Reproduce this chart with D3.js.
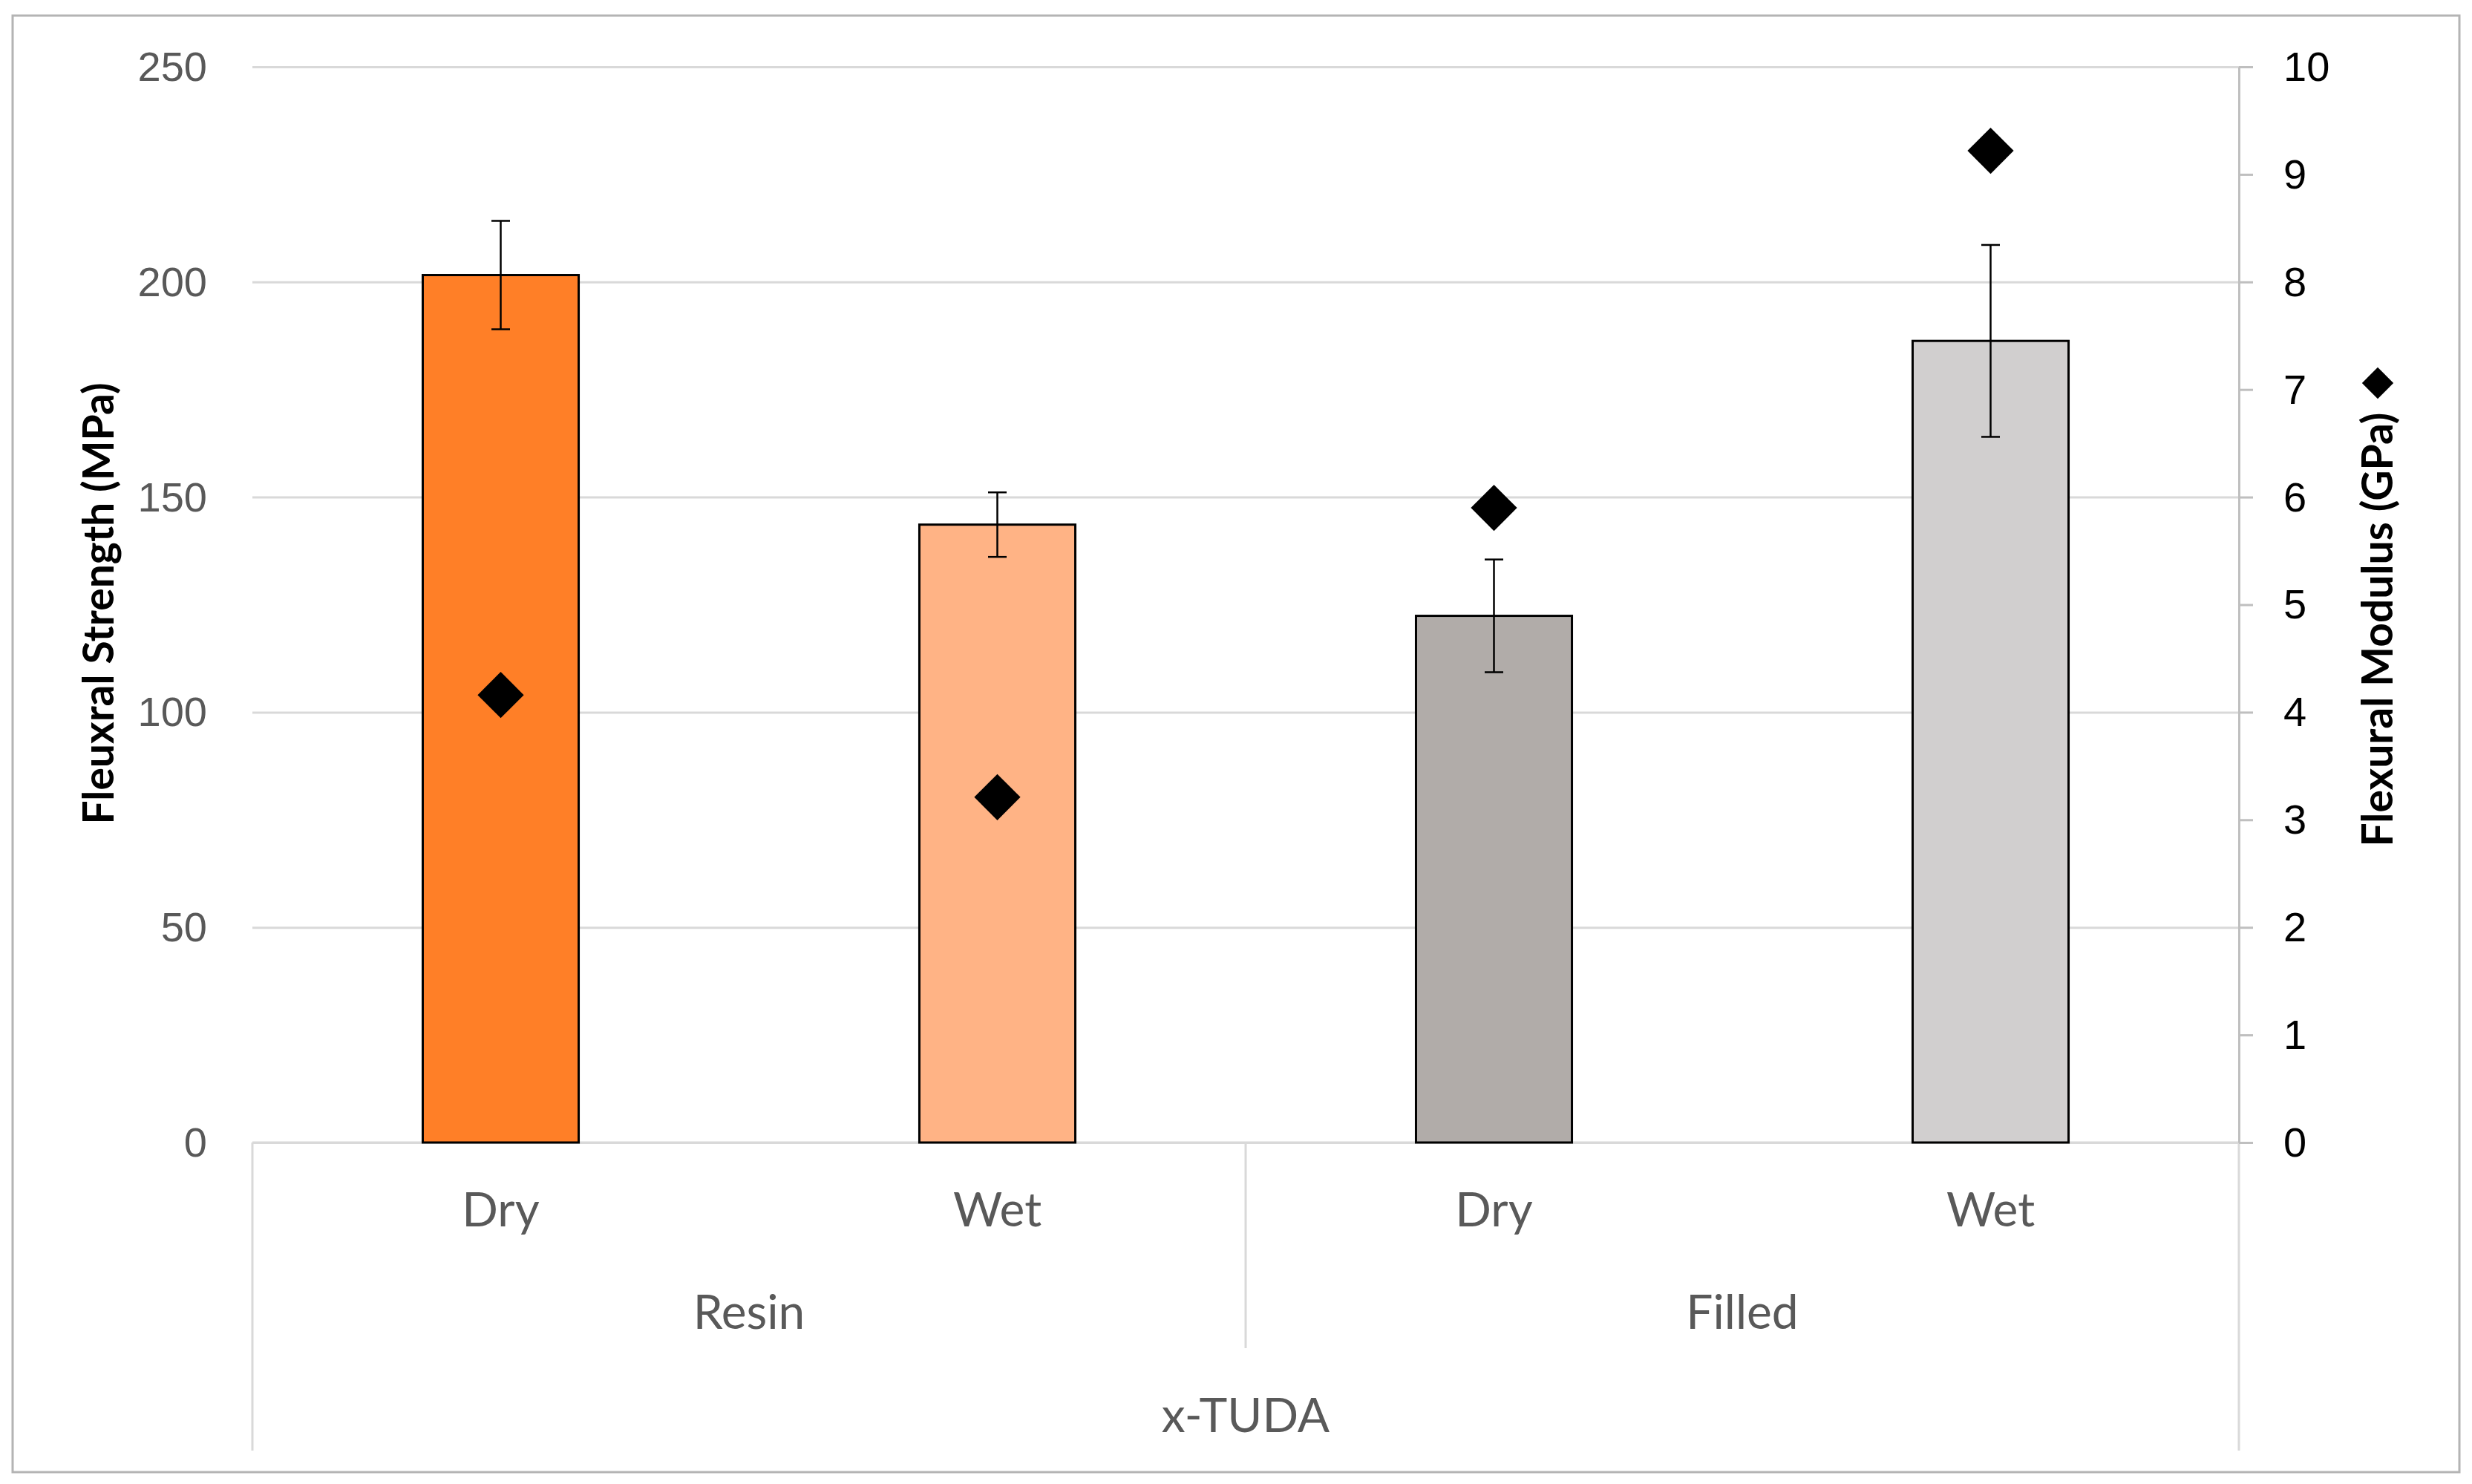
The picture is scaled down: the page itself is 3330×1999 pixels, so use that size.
<!DOCTYPE html>
<html>
<head>
<meta charset="utf-8">
<script src="https://cdn.jsdelivr.net/npm/d3@7"></script>
<style>
  html, body { margin: 0; padding: 0; background: #ffffff; }
  svg { display: block; font-family: Lato, "Open Sans", "Liberation Sans", sans-serif; }
</style>
</head>
<body>
<svg id="chart" width="3330" height="1999"></svg>
<script>
// ---- data ----
const groupLabels = ["Resin", "Filled"];
const groupOf = ["Resin", "Resin", "Filled", "Filled"];
const conditions = ["Dry", "Wet", "Dry", "Wet"];
const categoryIds = ["Resin-Dry", "Resin-Wet", "Filled-Dry", "Filled-Wet"];
const strength = [201.6, 143.6, 122.4, 186.3];      // MPa
const strengthErr = [12.6, 7.5, 13.1, 22.3];        // MPa
const modulus = [4.16, 3.21, 5.90, 9.22];           // GPa
const leftTicks = [0, 50, 100, 150, 200, 250];
const rightTicks = [0, 1, 2, 3, 4, 5, 6, 7, 8, 9, 10];
const superLabel = "x-TUDA";
const leftTitle = "Fleuxral Strength (MPa)";
const rightTitle = "Flexural Modulus (GPa)";

const barColors = ["#FF7F27", "#FFB385", "#B1ACA9", "#D1CFCF"];

// ---- layout ----
const W = 3330, H = 1999;
const plot = { left: 340, right: 3016, top: 90, bottom: 1539 };

const svg = d3.select("#chart");

// outer frame
svg.append("rect")
  .attr("x", 17).attr("y", 21)
  .attr("width", 3313 - 17).attr("height", 1983 - 21)
  .attr("fill", "#ffffff")
  .attr("stroke", "#b4b4b4").attr("stroke-width", 3);

const x = d3.scaleBand()
  .domain(categoryIds)
  .range([plot.left, plot.right])
  .paddingInner(0.686)
  .paddingOuter(0.343);

const yL = d3.scaleLinear().domain([0, 250]).range([plot.bottom, plot.top]);
const yR = d3.scaleLinear().domain([0, 10]).range([plot.bottom, plot.top]);

// gridlines
const grid = svg.append("g")
  .attr("transform", `translate(${plot.left},0)`)
  .call(d3.axisLeft(yL).tickValues(leftTicks).tickSize(-(plot.right - plot.left)).tickFormat(""));
grid.select(".domain").remove();
grid.selectAll(".tick line").attr("stroke", "#d9d9d9").attr("stroke-width", 3);

// left axis labels
const leftAxis = svg.append("g")
  .attr("transform", `translate(${plot.left},0)`)
  .call(d3.axisLeft(yL).tickValues(leftTicks).tickSize(0).tickPadding(61).tickFormat(d3.format("d")));
leftAxis.select(".domain").remove();
leftAxis.selectAll("text")
  .attr("fill", "#595959")
  .style("font-size", "56px")
  .attr("dy", "0.33em");

// category axis baseline and separators
const catLines = svg.append("g").attr("stroke", "#d9d9d9").attr("stroke-width", 3);
catLines.append("line")
  .attr("x1", plot.left).attr("x2", plot.right)
  .attr("y1", plot.bottom).attr("y2", plot.bottom);
const groupBounds = [x.range()[0], (x("Resin-Wet") + x("Filled-Dry") + x.bandwidth()) / 2, x.range()[1]];
catLines.append("line")
  .attr("x1", groupBounds[0]).attr("x2", groupBounds[0])
  .attr("y1", plot.bottom).attr("y2", 1954);
catLines.append("line")
  .attr("x1", groupBounds[1]).attr("x2", groupBounds[1])
  .attr("y1", plot.bottom).attr("y2", 1816);
catLines.append("line")
  .attr("x1", groupBounds[2]).attr("x2", groupBounds[2])
  .attr("y1", plot.bottom).attr("y2", 1954);

// bars
svg.append("g").selectAll("rect")
  .data(categoryIds)
  .join("rect")
  .attr("x", d => x(d))
  .attr("width", x.bandwidth())
  .attr("y", (d, i) => yL(strength[i]))
  .attr("height", (d, i) => yL(0) - yL(strength[i]))
  .attr("fill", (d, i) => barColors[i])
  .attr("stroke", "#000000")
  .attr("stroke-width", 3);

// error bars
const capW = 25;
const eb = svg.append("g").attr("stroke", "#000000").attr("stroke-width", 2.5);
categoryIds.forEach((id, i) => {
  const cx = x(id) + x.bandwidth() / 2;
  const hi = yL(strength[i] + strengthErr[i]);
  const lo = yL(strength[i] - strengthErr[i]);
  eb.append("line").attr("x1", cx).attr("x2", cx).attr("y1", hi).attr("y2", lo);
  eb.append("line").attr("x1", cx - capW / 2).attr("x2", cx + capW / 2).attr("y1", hi).attr("y2", hi);
  eb.append("line").attr("x1", cx - capW / 2).attr("x2", cx + capW / 2).attr("y1", lo).attr("y2", lo);
});

// modulus diamonds
const diamond = d3.symbol().type(d3.symbolSquare).size(44 * 44);
svg.append("g").selectAll("path")
  .data(categoryIds)
  .join("path")
  .attr("d", diamond)
  .attr("transform", (d, i) => `translate(${x(d) + x.bandwidth() / 2},${yR(modulus[i])}) rotate(45)`)
  .attr("fill", "#000000");

// right axis
const rightAxis = svg.append("g")
  .attr("transform", `translate(${plot.right},0)`)
  .call(d3.axisRight(yR).tickValues(rightTicks).tickSize(19).tickSizeOuter(0).tickPadding(41).tickFormat(d3.format("d")));
rightAxis.select(".domain").attr("stroke", "#bfbfbf").attr("stroke-width", 3);
rightAxis.selectAll(".tick line").attr("stroke", "#bfbfbf").attr("stroke-width", 3);
rightAxis.selectAll("text")
  .attr("fill", "#000000")
  .style("font-size", "56px")
  .attr("dy", "0.33em");

// category labels
svg.append("g").selectAll("text")
  .data(categoryIds)
  .join("text")
  .attr("x", d => x(d) + x.bandwidth() / 2)
  .attr("y", 1652)
  .attr("text-anchor", "middle")
  .attr("fill", "#595959")
  .style("font-size", "64px")
  .text((d, i) => conditions[i]);

svg.append("g").selectAll("text")
  .data(groupLabels)
  .join("text")
  .attr("x", (d, i) => (groupBounds[i] + groupBounds[i + 1]) / 2)
  .attr("y", 1790)
  .attr("text-anchor", "middle")
  .attr("fill", "#595959")
  .style("font-size", "64px")
  .text(d => d);

svg.append("text")
  .attr("x", (plot.left + plot.right) / 2)
  .attr("y", 1929)
  .attr("text-anchor", "middle")
  .attr("fill", "#595959")
  .style("font-size", "64px")
  .text(superLabel);

// axis titles
svg.append("text")
  .attr("transform", "translate(133,813) rotate(-90)")
  .attr("text-anchor", "middle")
  .attr("dy", "0.35em")
  .attr("fill", "#000000")
  .style("font-size", "57px")
  .style("font-weight", "bold")
  .text(leftTitle);

svg.append("text")
  .attr("transform", "translate(3203,848) rotate(-90)")
  .attr("text-anchor", "middle")
  .attr("dy", "0.35em")
  .attr("fill", "#000000")
  .style("font-size", "57px")
  .style("font-weight", "bold")
  .text(rightTitle);

svg.append("path")
  .attr("d", d3.symbol().type(d3.symbolSquare).size(30 * 30))
  .attr("transform", "translate(3203,516) rotate(45)")
  .attr("fill", "#000000");
</script>
</body>
</html>
